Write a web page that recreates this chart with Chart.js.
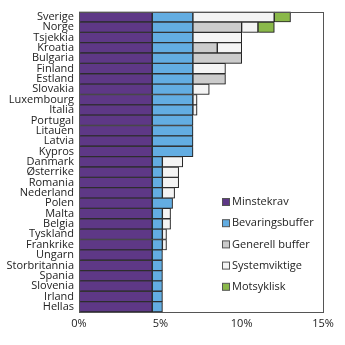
<!DOCTYPE html>
<html>
<head>
<meta charset="utf-8">
<script src="https://cdn.jsdelivr.net/npm/chart.js@4.4.0/dist/chart.umd.min.js"></script>
<style>
html,body{margin:0;padding:0;background:#fff;}
#wrap{width:345px;height:345px;position:relative;}
</style>
</head>
<body>
<div id="wrap"><canvas id="c"></canvas></div>
<script>
const categories = ["Sverige","Norge","Tsjekkia","Kroatia","Bulgaria","Finland","Estland","Slovakia","Luxembourg","Italia","Portugal","Litauen","Latvia","Kypros","Danmark","Østerrike","Romania","Nederland","Polen","Malta","Belgia","Tyskland","Frankrike","Ungarn","Storbritannia","Spania","Slovenia","Irland","Hellas"];
const minstekrav      = [4.5,4.5,4.5,4.5,4.5,4.5,4.5,4.5,4.5,4.5,4.5,4.5,4.5,4.5,4.5,4.5,4.5,4.5,4.5,4.5,4.5,4.5,4.5,4.5,4.5,4.5,4.5,4.5,4.5];
const bevaringsbuffer = [2.5,2.5,2.5,2.5,2.5,2.5,2.5,2.5,2.5,2.5,2.5,2.5,2.5,2.5,0.625,0.625,0.625,0.625,1.25,0.625,0.625,0.625,0.625,0.625,0.625,0.625,0.625,0.625,0.625];
const generellBuffer  = [0,3,0,1.5,3,0,2,0,0,0,0,0,0,0,0,0,0,0,0,0,0,0,0,0,0,0,0,0,0];
const systemviktige   = [5,1,3,1.5,0,2,0,1,0.25,0.25,0,0,0,0,1.25,1,1,0.75,0,0.5,0.5,0.25,0.25,0,0,0,0,0,0];
const motsyklisk      = [1,1,0,0,0,0,0,0,0,0,0,0,0,0,0,0,0,0,0,0,0,0,0,0,0,0,0,0,0];
const xTicks = [0,5,10,15];
const seriesNames = ["Minstekrav","Bevaringsbuffer","Generell buffer","Systemviktige","Motsyklisk"];
const seriesColors = ["#5e3886","#63ade2","#cccccc","#f4f4f4","#8ab84a"];

const allSeries = [minstekrav,bevaringsbuffer,generellBuffer,systemviktige,motsyklisk];
const datasets = allSeries.map((arr,i)=>({
  label: seriesNames[i],
  data: arr.map(v => v === 0 ? null : v),
  backgroundColor: seriesColors[i],
  borderColor: '#333333',
  borderWidth: 1,
  borderSkipped: false,
  categoryPercentage: 1,
  barPercentage: 1
}));

const FONT = '"Open Sans", "Noto Sans", sans-serif';

const shadowPlugin = {
  id: 'shadow',
  beforeDatasetsDraw(chart){
    const ctx = chart.ctx;
    ctx.save();
    ctx.shadowColor = 'rgba(0,0,0,0.3)';
    ctx.shadowOffsetX = 1.5;
    ctx.shadowOffsetY = 0.5;
    ctx.shadowBlur = 0;
  },
  afterDatasetsDraw(chart){
    chart.ctx.restore();
  }
};

const framePlugin = {
  id: 'frame',
  afterDraw(chart){
    const {ctx, chartArea:a} = chart;
    ctx.save();
    ctx.strokeStyle = '#555';
    ctx.lineWidth = 1;
    ctx.strokeRect(Math.round(a.left)+0.5, Math.round(a.top)+0.5, Math.round(a.right-a.left), Math.round(a.bottom-a.top));
    ctx.restore();
  }
};

const legendPlugin = {
  id: 'customLegend',
  afterDraw(chart){
    const ctx = chart.ctx;
    ctx.save();
    ctx.font = '11px ' + FONT;
    ctx.textBaseline = 'middle';
    ctx.textAlign = 'left';
    seriesNames.forEach((name,i)=>{
      const y = 202 + i*21.2;
      ctx.fillStyle = seriesColors[i];
      ctx.fillRect(222.5, y-3.5, 7, 7);
      ctx.strokeStyle = '#555';
      ctx.lineWidth = 1;
      ctx.strokeRect(222.5, y-3.5, 7, 7);
      ctx.fillStyle = '#222';
      ctx.fillText(name, 232, y);
    });
    ctx.restore();
  }
};

new Chart(document.getElementById('c'), {
  type: 'bar',
  data: { labels: categories, datasets },
  options: {
    indexAxis: 'y',
    responsive: true,
    maintainAspectRatio: false,
    animation: false,
    layout: { padding: { top: 11, right: 22, left: 0, bottom: 0 } },
    plugins: { legend: { display: false }, tooltip: { enabled: false } },
    scales: {
      x: {
        stacked: true, min: 0, max: 15,
        afterBuildTicks(scale){ scale.ticks = xTicks.map(v=>({value:v})); },
        afterFit(scale){ scale.height = 33; },
        grid: { display: false, drawTicks: false },
        border: { display: false },
        ticks: { color: '#222', font: { size: 11, family: FONT }, padding: 5, maxRotation: 0,
          callback: v => v + '%' }
      },
      y: {
        stacked: true,
        afterFit(scale){ scale.width = 79; },
        grid: { display: false, drawTicks: false },
        border: { display: false },
        ticks: { color: '#222', font: { size: 11, family: FONT }, padding: 5, autoSkip: false }
      }
    }
  },
  plugins: [shadowPlugin, framePlugin, legendPlugin]
});
</script>
</body>
</html>
